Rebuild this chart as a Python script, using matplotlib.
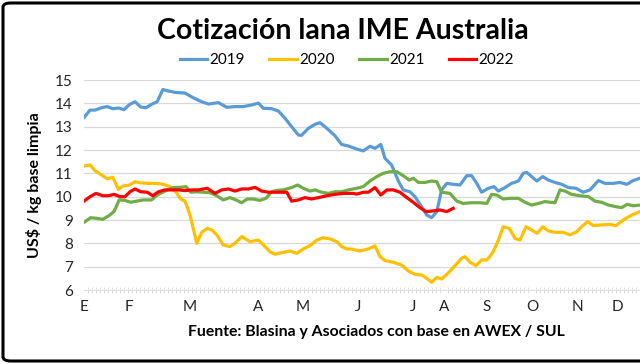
import numpy as np
import matplotlib
matplotlib.use("Agg")
import matplotlib.pyplot as plt
from matplotlib.patches import FancyBboxPatch

plt.rcParams['font.family'] = ['Lato', 'DejaVu Sans']

# posicion = indice de remate (semana) a lo largo del año
meses = ["E", "F", "M", "A", "M", "J", "J", "A", "S", "O", "N", "D"]
pos_meses = [0, 11.25, 26.5, 43.5, 54.75, 68.5, 82.25, 90, 100.75, 112, 123.25, 133.25]

x2019 = [0, 1.5, 2.75, 4.4, 5.8, 7.2, 8.6, 10, 11.3, 12.75, 14.2, 15.5, 16.9, 18.3, 19.7, 21.1,
         22.75, 25.25, 27.3, 29.4, 31.1, 33.6, 35.7, 37.75, 39.8, 41.9, 43.6, 44.8, 46.9, 48.6,
         50.25, 51.9, 53.6, 54.4, 56.1, 57.75, 59, 60.7, 62.75, 64.4, 66.1, 68.2, 69.8, 71.5,
         72.75, 74.2, 75.25, 76.9, 78.6, 79.8, 81.5, 82.75, 84.4, 85.7, 86.9, 88.2, 89.4, 90.7,
         92.3, 94, 95.7, 96.9, 98.2, 99.4, 101.1, 102.5, 103.6, 105.25, 106.9, 108.6, 109.8,
         110.7, 111.9, 113.2, 114.7, 116.1, 117.75, 119.4, 121.1, 123, 124.8, 126.5, 128.6,
         130.25, 132.3, 134, 135.7, 137.3, 139]
y2019 = [13.39, 13.71, 13.71, 13.81, 13.86, 13.77, 13.80, 13.73, 13.94, 14.07, 13.84, 13.81, 13.96,
         14.07, 14.59, 14.53, 14.47, 14.44, 14.24, 14.07, 13.97, 14.03, 13.83, 13.86, 13.86, 13.93,
         14.01, 13.79, 13.77, 13.67, 13.36, 13.00, 12.64, 12.63, 12.93, 13.10, 13.17, 12.93, 12.61,
         12.24, 12.17, 12.04, 11.96, 12.16, 12.07, 12.24, 11.64, 11.36, 10.67, 10.29, 10.21, 10.00,
         9.57, 9.21, 9.10, 9.36, 10.29, 10.57, 10.53, 10.50, 10.90, 10.90, 10.57, 10.19, 10.36,
         10.43, 10.24, 10.39, 10.57, 10.67, 11.00, 11.04, 10.86, 10.67, 10.86, 10.71, 10.61, 10.53,
         10.39, 10.36, 10.19, 10.29, 10.69, 10.57, 10.57, 10.61, 10.53, 10.69, 10.79]

x2020 = [0, 1.5, 2.75, 4.4, 5.8, 7.2, 8.6, 9.8, 11.3, 12.75, 14.2, 16.1, 18.2, 19.8, 21.5, 23,
         24.2, 25.25, 26.5, 28.2, 29.4, 30.8, 32, 33.2, 34.8, 36.5, 37.75, 39.4, 41.5, 43.6, 45.25,
         46.5, 47.75, 49.4, 51.5, 53.2, 54.8, 56.5, 58.2, 59.8, 61.5, 63.2, 64.4, 65.7, 67, 69,
         71.1, 72.75, 74, 75.25, 77.3, 79.4, 81.1, 82.75, 84.4, 85.7, 86.9, 88.2, 89.4, 91.1,
         92.75, 94.4, 95.25, 96.5, 98, 99.4, 100.7, 101.5, 102.3, 103.6, 104.8, 106.3, 107.75,
         109, 110.5, 111.9, 113.3, 114.7, 116.1, 117.75, 119.8, 121.5, 123.2, 124.4, 125.9,
         127.3, 129.4, 131.5, 133, 134.8, 136.9, 139]
y2020 = [11.31, 11.36, 11.11, 10.93, 10.76, 10.83, 10.31, 10.46, 10.50, 10.64, 10.59, 10.57, 10.57,
         10.53, 10.43, 10.19, 9.90, 9.81, 9.21, 8.00, 8.47, 8.64, 8.57, 8.36, 7.93, 7.86, 8.00,
         8.29, 8.07, 8.14, 7.86, 7.64, 7.53, 7.60, 7.67, 7.57, 7.76, 7.90, 8.14, 8.24, 8.19, 8.07,
         7.86, 7.76, 7.75, 7.67, 7.76, 7.89, 7.43, 7.26, 7.19, 7.07, 6.81, 6.67, 6.64, 6.50, 6.33,
         6.54, 6.47, 6.74, 7.04, 7.36, 7.43, 7.19, 7.04, 7.29, 7.29, 7.45, 7.64, 8.14, 8.71, 8.64,
         8.21, 8.14, 8.71, 8.57, 8.43, 8.71, 8.53, 8.47, 8.47, 8.36, 8.50, 8.71, 8.93, 8.76, 8.79,
         8.81, 8.76, 9.00, 9.21, 9.36]

x2021 = [0, 1.7, 3.2, 4.7, 6.1, 7.5, 8.8, 10.25, 11.7, 13.2, 14.8, 16.9, 18.3, 20.25, 22.3, 24,
         25.5, 26.7, 28.2, 29.8, 31.5, 33.2, 34.8, 36.5, 38, 39.4, 40.8, 42.3, 44, 45.5, 46.9,
         48.2, 49.8, 51.9, 53.4, 54.8, 56.5, 57.75, 59.4, 61.1, 62.75, 64.4, 66.1, 68.2, 69.8,
         71.5, 73.2, 74.8, 76.5, 78.2, 79.8, 81.3, 82.3, 83.6, 85.25, 86.9, 88.2, 89.4, 91.5,
         93.2, 94.8, 96.9, 99, 100.7, 101.9, 103.2, 104.8, 106.5, 108.6, 110.25, 111.9, 113.6,
         115.25, 116.5, 117.75, 119, 120.25, 121.9, 124, 126.1, 127.75, 129.4, 131.1, 133,
         134.4, 135.8, 137.3, 139]
y2021 = [8.90, 9.10, 9.07, 9.03, 9.17, 9.36, 9.86, 9.84, 9.76, 9.81, 9.86, 9.86, 10.07, 10.24,
         10.39, 10.40, 10.43, 10.19, 10.21, 10.19, 10.17, 10.04, 9.86, 9.96, 9.86, 9.74, 9.90,
         9.90, 9.84, 9.93, 10.21, 10.27, 10.29, 10.39, 10.50, 10.36, 10.24, 10.29, 10.19, 10.14,
         10.21, 10.21, 10.29, 10.36, 10.43, 10.67, 10.86, 11.00, 11.07, 11.07, 10.90, 10.71,
         10.79, 10.61, 10.61, 10.67, 10.64, 10.19, 10.14, 9.81, 9.71, 9.74, 9.74, 9.71, 10.10,
         10.07, 9.90, 9.93, 9.93, 9.76, 9.64, 9.71, 9.79, 9.76, 9.74, 10.29, 10.24, 10.10, 10.04,
         10.00, 9.81, 9.76, 9.64, 9.57, 9.53, 9.67, 9.61, 9.64]

x2022 = [0, 1.5, 3, 4.7, 6.1, 7.5, 9, 10.25, 11.5, 12.75, 14.2, 15.8, 17.2, 18.6, 20.25, 21.9,
         23.6, 25.25, 26.9, 28.6, 30.8, 32.75, 34.4, 36.1, 37.75, 39.4, 41.1, 42.75, 44.4, 46.1,
         48.2, 50.7, 51.9, 53.6, 55.25, 56.9, 58.6, 60.7, 62.75, 64.8, 67.25, 68.2, 69.8, 71.1,
         72.75, 74.2, 75.7, 77.3, 79, 80.7, 82.3, 84, 85.5, 87.3, 89, 90.7, 92.3]
y2022 = [9.81, 10.00, 10.14, 10.04, 10.04, 10.10, 10.00, 10.00, 10.21, 10.33, 10.21, 10.19, 10.04,
         10.21, 10.29, 10.29, 10.29, 10.26, 10.29, 10.29, 10.36, 10.14, 10.29, 10.33, 10.24, 10.33,
         10.33, 10.40, 10.24, 10.19, 10.19, 10.19, 9.81, 9.86, 9.96, 9.90, 9.96, 10.04, 10.10,
         10.14, 10.14, 10.11, 10.19, 10.19, 10.39, 10.07, 10.29, 10.29, 10.19, 9.96, 9.76, 9.53,
         9.36, 9.39, 9.43, 9.36, 9.50]

series = [("2019", x2019, y2019, "#5b9bd5"),
          ("2020", x2020, y2020, "#ffc000"),
          ("2021", x2021, y2021, "#70ad47"),
          ("2022", x2022, y2022, "#ff0000")]

fig = plt.figure(figsize=(6.4, 3.64), dpi=100)
ax = fig.add_axes([84 / 640, 1 - 290 / 364, 556 / 640, 210 / 364])

for name, xs, ys, col in series:
    ax.plot(xs, ys, color=col, lw=2.3, label=name, solid_joinstyle="round")

ax.set_xlim(0, 139)
ax.set_ylim(6, 15)
ax.set_yticks(range(6, 16))
ax.set_xticks(pos_meses)
ax.set_xticklabels(meses)
ax.set_xticks(np.arange(0, 140, 1.0), minor=True)
ax.grid(axis="y", color="#d9d9d9", lw=0.9)
ax.set_axisbelow(True)
for s in ["top", "right", "left"]:
    ax.spines[s].set_visible(False)
ax.spines["bottom"].set_color("#e0e0e0")
ax.spines["bottom"].set_linewidth(0.8)
ax.tick_params(axis="y", length=0, pad=8, labelsize=11, labelcolor="#262626")
ax.tick_params(axis="x", which="major", length=0, pad=7, labelsize=11, labelcolor="#262626")
ax.tick_params(axis="x", which="minor", length=4, width=0.6, color="#d9d9d9", direction="inout")

ax.set_ylabel("US$ / kg base limpia", fontsize=11.5, fontweight="bold", va="center")
ax.yaxis.set_label_coords(-0.09, 0.5)

fig.text(0.536, 1 - 31 / 364, "Cotización lana IME Australia", ha="center", va="center",
         fontsize=20.5, fontweight="bold")
fig.legend(loc="center", bbox_to_anchor=(0.542, 1 - 60 / 364), ncol=4, frameon=False,
           fontsize=11, handlelength=1.8, columnspacing=1.6, handletextpad=0.15)
fig.text(376 / 640, 1 - 332 / 364, "Fuente: Blasina y Asociados con base en AWEX / SUL",
         ha="center", va="center", fontsize=11.3, fontweight="bold")

border = FancyBboxPatch((3 / 640, 3 / 364), 1.2, 1 - 6 / 364,
                        boxstyle="round,pad=0,rounding_size=0.012",
                        transform=fig.transFigure, fill=False, edgecolor="black", lw=2.2,
                        clip_on=False)
fig.patches.append(border)

fig.savefig("out.png", dpi=100)
